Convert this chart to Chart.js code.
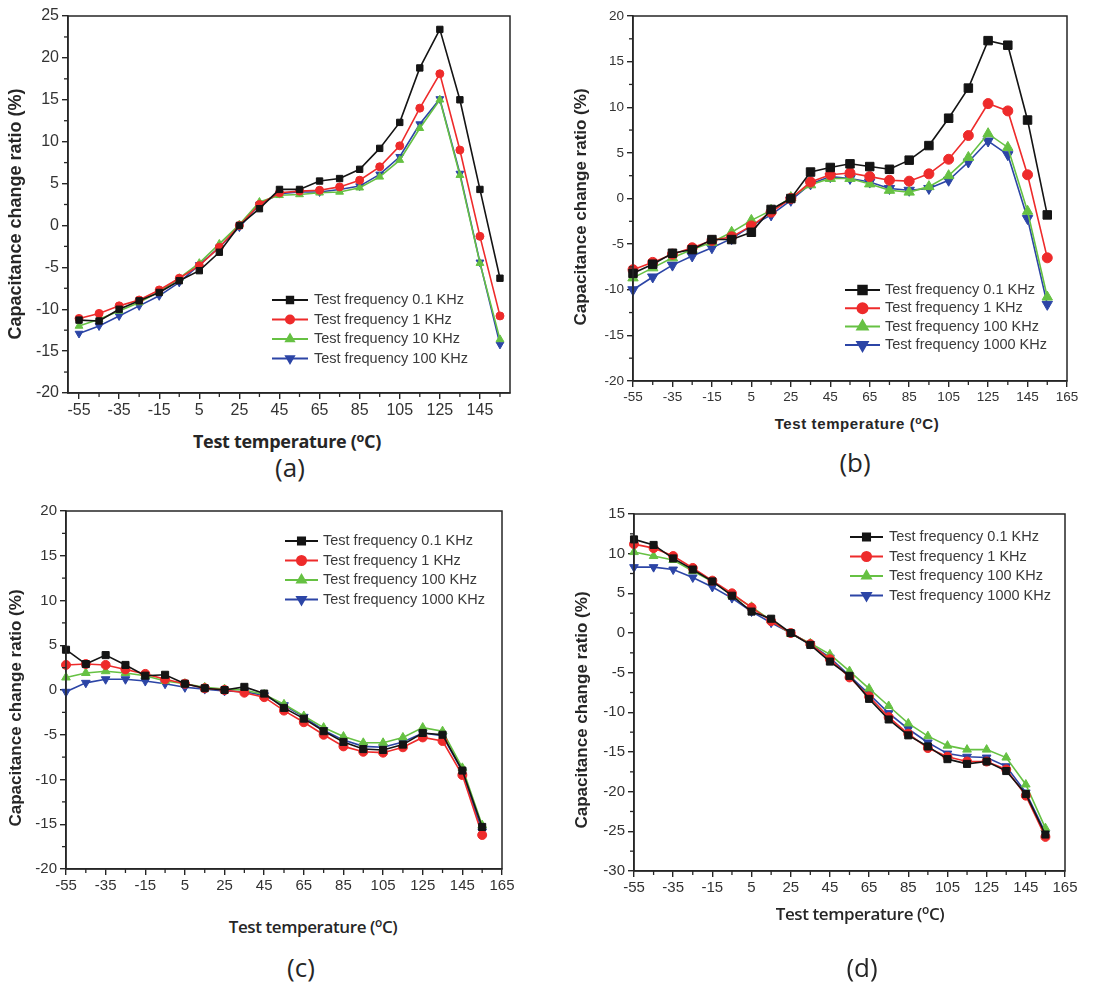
<!DOCTYPE html>
<html><head><meta charset="utf-8">
<script src="https://cdn.jsdelivr.net/npm/chart.js@4.4.1/dist/chart.umd.min.js"></script>
<style>
html,body{margin:0;padding:0;background:#fff}
body{width:1115px;height:989px;position:relative;overflow:hidden;font-family:'Liberation Sans',Arial,sans-serif}
canvas{position:absolute}
.t{position:absolute;white-space:nowrap;color:#262626;line-height:1}
.c{transform:translate(-50%,-50%)}
.r{transform:translate(-50%,-50%) rotate(-90deg)}
sup{font-size:70%;vertical-align:0.45em;line-height:0}
</style></head><body>
<canvas id="ca" width="540" height="420" style="left:0px;top:0px;width:540px;height:420px"></canvas>
<canvas id="cb" width="555" height="410" style="left:560px;top:0px;width:555px;height:410px"></canvas>
<canvas id="cc" width="540" height="415" style="left:0px;top:490px;width:540px;height:415px"></canvas>
<canvas id="cd" width="555" height="415" style="left:560px;top:490px;width:555px;height:415px"></canvas>

<div class="t r" style="left:15px;top:214px;font:bold 18px 'Liberation Sans',Arial,sans-serif">Capacitance change ratio (%)</div>
<div class="t c" style="left:287px;top:441px;font:bold 18px 'Open Sans',sans-serif;letter-spacing:-0.3px">Test temperature (<sup>o</sup>C)</div>
<div class="t c" style="left:290px;top:467px;font:26px 'Open Sans',sans-serif">(a)</div>

<div class="t r" style="left:581px;top:207px;font:bold 17px 'Liberation Sans',Arial,sans-serif">Capacitance change ratio (%)</div>
<div class="t c" style="left:857px;top:423px;font:bold 15px 'Liberation Sans',Arial,sans-serif;letter-spacing:0.6px">Test temperature (<sup>o</sup>C)</div>
<div class="t c" style="left:855px;top:462px;font:26px 'Open Sans',sans-serif">(b)</div>

<div class="t r" style="left:16px;top:708px;font:bold 17px 'Liberation Sans',Arial,sans-serif">Capacitance change ratio (%)</div>
<div class="t c" style="left:313px;top:926px;font:600 17px 'Open Sans',sans-serif;letter-spacing:-0.4px">Test temperature (<sup>o</sup>C)</div>
<div class="t c" style="left:301px;top:967px;font:26px 'Open Sans',sans-serif">(c)</div>

<div class="t r" style="left:582px;top:710px;font:bold 17px 'Liberation Sans',Arial,sans-serif">Capacitance change ratio (%)</div>
<div class="t c" style="left:860px;top:913px;font:600 17px 'Open Sans',sans-serif;letter-spacing:-0.4px">Test temperature (<sup>o</sup>C)</div>
<div class="t c" style="left:862px;top:967px;font:26px 'Open Sans',sans-serif">(d)</div>

<script>
// ---------- data ----------
const temps = [-55,-45,-35,-25,-15,-5,5,15,25,35,45,55,65,75,85,95,105,115,125,135,145,155];

const labelsA = ['Test frequency 0.1 KHz','Test frequency 1 KHz','Test frequency 10 KHz','Test frequency 100 KHz'];
const labelsBCD = ['Test frequency 0.1 KHz','Test frequency 1 KHz','Test frequency 100 KHz','Test frequency 1000 KHz'];

// panel (a)
const a_f01  = [-11.3,-11.4,-10.0,-9.0,-8.0,-6.6,-5.4,-3.2,0.0,2.0,4.3,4.3,5.3,5.6,6.7,9.2,12.3,18.8,23.4,15.0,4.3,-6.3];
const a_f1   = [-11.1,-10.5,-9.6,-8.9,-7.7,-6.3,-4.8,-2.6,0.0,2.5,3.9,4.1,4.2,4.6,5.4,7.0,9.5,14.0,18.1,9.0,-1.3,-10.8];
const a_f10  = [-12.0,-11.2,-10.2,-9.2,-7.9,-6.3,-4.5,-2.2,0.1,2.8,3.6,3.7,3.9,4.0,4.5,5.8,7.8,11.6,15.0,6.0,-4.5,-13.6];
const a_f100 = [-12.9,-12.0,-10.8,-9.6,-8.4,-6.8,-4.7,-2.6,-0.2,2.5,3.8,4.0,4.0,4.3,4.7,6.1,8.2,12.1,15.1,6.2,-4.4,-14.2];

// panel (b)
const b_f01   = [-8.2,-7.2,-6.0,-5.6,-4.5,-4.5,-3.7,-1.2,0.0,2.9,3.4,3.8,3.5,3.2,4.2,5.8,8.8,12.1,17.3,16.8,8.6,-1.8];
const b_f1    = [-7.8,-7.0,-6.1,-5.4,-4.6,-4.2,-3.0,-1.5,0.0,1.8,2.6,2.8,2.4,2.0,1.9,2.7,4.3,6.9,10.4,9.6,2.6,-6.5];
const b_f100  = [-8.7,-7.6,-6.5,-5.6,-4.8,-3.7,-2.4,-1.3,0.1,1.5,2.2,2.2,1.6,0.9,0.7,1.3,2.5,4.5,7.1,5.6,-1.4,-10.8];
const b_f1000 = [-10.0,-8.6,-7.3,-6.3,-5.4,-4.4,-3.0,-1.8,-0.2,1.6,2.4,2.2,1.8,1.1,0.9,1.1,2.0,4.0,6.3,4.8,-2.2,-11.6];

// panel (c)
const c_f01   = [4.5,2.9,3.9,2.8,1.6,1.7,0.7,0.2,0.0,0.35,-0.4,-2.0,-3.2,-4.6,-5.8,-6.6,-6.7,-6.1,-4.8,-5.0,-9.0,-15.3];
const c_f1    = [2.8,2.9,2.8,2.3,1.8,1.2,0.7,0.2,0.0,-0.3,-0.8,-2.3,-3.6,-5.0,-6.3,-6.9,-7.0,-6.4,-5.3,-5.7,-9.5,-16.2];
const c_f100  = [1.4,1.9,2.1,1.9,1.6,1.0,0.7,0.3,0.1,0.0,-0.5,-1.6,-2.9,-4.2,-5.2,-5.9,-5.9,-5.3,-4.2,-4.6,-8.7,-15.1];
const c_f1000 = [-0.2,0.8,1.2,1.2,1.0,0.7,0.3,0.1,-0.1,-0.2,-0.6,-1.7,-3.0,-4.5,-5.6,-6.3,-6.4,-5.8,-4.8,-5.1,-9.1,-15.8];

// panel (d)
const d_f01   = [11.8,11.1,9.4,8.0,6.5,4.7,2.7,1.8,0.0,-1.5,-3.6,-5.4,-8.3,-10.9,-12.9,-14.3,-15.9,-16.5,-16.2,-17.4,-20.3,-25.4];
const d_f1    = [11.2,10.7,9.7,8.2,6.6,5.0,3.2,1.5,0.0,-1.4,-3.3,-5.6,-8.0,-10.6,-12.7,-14.5,-15.6,-16.2,-16.2,-17.2,-20.5,-25.7];
const d_f100  = [10.2,9.7,9.2,7.8,6.5,4.8,3.3,1.6,-0.1,-1.3,-2.7,-4.8,-7.0,-9.2,-11.4,-13.0,-14.2,-14.7,-14.7,-15.7,-19.1,-24.6];
const d_f1000 = [8.3,8.3,8.0,7.0,5.8,4.4,2.7,1.3,0.0,-1.4,-3.1,-5.4,-7.7,-10.1,-12.1,-13.8,-15.2,-15.6,-15.7,-16.8,-20.1,-25.2];

// tick labels
const xTicksA   = [-55,-35,-15,5,25,45,65,85,105,125,145];
const xTicksBCD = [-55,-35,-15,5,25,45,65,85,105,125,145,165];
const yTicksA   = [-20,-15,-10,-5,0,5,10,15,20,25];
const yTicksBC  = [-20,-15,-10,-5,0,5,10,15,20];
const yTicksD   = [-30,-25,-20,-15,-10,-5,0,5,10,15];

// ---------- styling ----------
const colors = ['#141414','#ee2b2b','#66c143','#2c45a6'];
const shapes = ['rect','circle','triangle','triangle'];
const rots   = [0,0,0,180];

function mids(arr, lo, hi){
  const step = arr[1]-arr[0]; const out=[];
  for(let i=0;i<arr.length+1;i++){
    const v = arr[0] + (i-0.5)*step;
    if(v>lo+0.01 && v<hi-0.01) out.push(v);
  }
  return out;
}

const framePlugin = {
  id:'frame',
  afterDraw(chart, args, o){
    const {ctx, chartArea:a, scales:{x,y}} = chart;
    ctx.save();
    ctx.strokeStyle='#262626'; ctx.lineWidth=1.5;
    ctx.strokeRect(a.left,a.top,a.right-a.left,a.bottom-a.top);
    ctx.lineWidth=1.3;
    o.xMinor.forEach(v=>{const px=x.getPixelForValue(v);ctx.beginPath();ctx.moveTo(px,a.bottom);ctx.lineTo(px,a.bottom+4);ctx.stroke();});
    o.yMinor.forEach(v=>{const py=y.getPixelForValue(v);ctx.beginPath();ctx.moveTo(a.left,py);ctx.lineTo(a.left-4,py);ctx.stroke();});
    ctx.restore();
  }
};

const legendPlugin = {
  id:'inlegend',
  afterDraw(chart, args, o){
    const ctx = chart.ctx;
    ctx.save();
    chart.data.datasets.forEach((ds,i)=>{
      const yy = o.y + i*o.dy;
      ctx.strokeStyle = ds.borderColor; ctx.fillStyle = ds.backgroundColor; ctx.lineWidth = 2;
      ctx.beginPath(); ctx.moveTo(o.x,yy); ctx.lineTo(o.x+o.len,yy); ctx.stroke();
      Chart.helpers.drawPoint(ctx,{pointStyle:ds.pointStyle,rotation:ds.pointRotation,radius:o.radius[i],borderWidth:1},o.x+o.len/2,yy);
      ctx.fillStyle = '#3a3a3a'; ctx.font = o.font; ctx.textBaseline='middle'; ctx.textAlign='left';
      ctx.fillText(ds.label, o.x+o.len+o.gap, yy);
    });
    ctx.restore();
  }
};

function makeChart(id, p){
  const datasets = p.series.map((s,i)=>({
    label:p.labels[i],
    data: temps.map((t,j)=>({x:t,y:s[j]})),
    borderColor:colors[i], backgroundColor:colors[i],
    pointBackgroundColor:colors[i], pointBorderColor:colors[i],
    pointStyle:shapes[i], pointRotation:rots[i], pointRadius:p.radius[i],
    pointBorderWidth:1, borderWidth:1.6, tension:0, clip:false
  }));
  new Chart(document.getElementById(id),{
    type:'line',
    data:{datasets},
    options:{
      responsive:false, animation:false, devicePixelRatio:1,
      layout:{padding:{top:p.padTop,right:p.padRight,left:0,bottom:0}},
      plugins:{
        legend:{display:false}, tooltip:{enabled:false},
        frame:{xMinor:mids(p.xTicks,p.xmin,p.xmax), yMinor:mids(p.yTicks,p.ymin,p.ymax)},
        inlegend:p.legend
      },
      scales:{
        x:{type:'linear',min:p.xmin,max:p.xmax,
           afterBuildTicks:sc=>{sc.ticks=p.xTicks.map(v=>({value:v}));},
           afterFit:sc=>{sc.height=p.xAxisH;},
           grid:{drawOnChartArea:false,drawTicks:true,tickLength:6,color:'#262626',lineWidth:1.4},
           border:{display:true,color:'#262626',width:1.5},
           ticks:{autoSkip:false,maxRotation:0,padding:p.xPad,color:'#333',font:p.tickFont}},
        y:{type:'linear',min:p.ymin,max:p.ymax,
           afterBuildTicks:sc=>{sc.ticks=p.yTicks.map(v=>({value:v}));},
           afterFit:sc=>{sc.width=p.yAxisW;},
           grid:{drawOnChartArea:false,drawTicks:true,tickLength:6,color:'#262626',lineWidth:1.4},
           border:{display:true,color:'#262626',width:1.5},
           ticks:{autoSkip:false,padding:3,color:'#333',font:p.tickFont}}
      }
    },
    plugins:[framePlugin,legendPlugin]
  });
}

makeChart('ca',{
  series:[a_f01,a_f1,a_f10,a_f100], labels:labelsA, radius:[4.5,4,4.5,4.5],
  xmin:-60.5,xmax:160,ymin:-20,ymax:25,xTicks:xTicksA,yTicks:yTicksA,
  yAxisW:68,padTop:16,padRight:30,xAxisH:27,xPad:2,
  tickFont:{family:"'Liberation Sans', Arial, sans-serif",size:16},
  legend:{x:272,y:300,dy:19.5,len:36,gap:6,radius:[4.5,4,4.5,4.5],font:"14.5px 'Liberation Sans', Arial, sans-serif"}
});
makeChart('cb',{
  series:[b_f01,b_f1,b_f100,b_f1000], labels:labelsBCD, radius:[6,5,6,6],
  xmin:-55,xmax:165,ymin:-20,ymax:20,xTicks:xTicksBCD,yTicks:yTicksBC,
  yAxisW:73,padTop:16,padRight:48,xAxisH:29,xPad:2,
  tickFont:{family:"'Liberation Sans', Arial, sans-serif",size:13.5},
  legend:{x:285,y:290,dy:18.3,len:35,gap:5,radius:[6,5,6,6],font:"14.5px 'Liberation Sans', Arial, sans-serif"}
});
makeChart('cc',{
  series:[c_f01,c_f1,c_f100,c_f1000], labels:labelsBCD, radius:[5,4.5,5,5],
  xmin:-55,xmax:165,ymin:-20,ymax:20,xTicks:xTicksBCD,yTicks:yTicksBC,
  yAxisW:66,padTop:21,padRight:38,xAxisH:36,xPad:2,
  tickFont:{family:"'Liberation Sans', Arial, sans-serif",size:15},
  legend:{x:285,y:51,dy:19.5,len:33,gap:5,radius:[5,4.5,5,5],font:"14.5px 'Liberation Sans', Arial, sans-serif"}
});
makeChart('cd',{
  series:[d_f01,d_f1,d_f100,d_f1000], labels:labelsBCD, radius:[5,4.5,5,5],
  xmin:-55,xmax:165,ymin:-30,ymax:15,xTicks:xTicksBCD,yTicks:yTicksD,
  yAxisW:74,padTop:24,padRight:50,xAxisH:34,xPad:2,
  tickFont:{family:"'Liberation Sans', Arial, sans-serif",size:15},
  legend:{x:290,y:47,dy:19.5,len:33,gap:6,radius:[5,4.5,5,5],font:"14.5px 'Liberation Sans', Arial, sans-serif"}
});
</script>
</body></html>
